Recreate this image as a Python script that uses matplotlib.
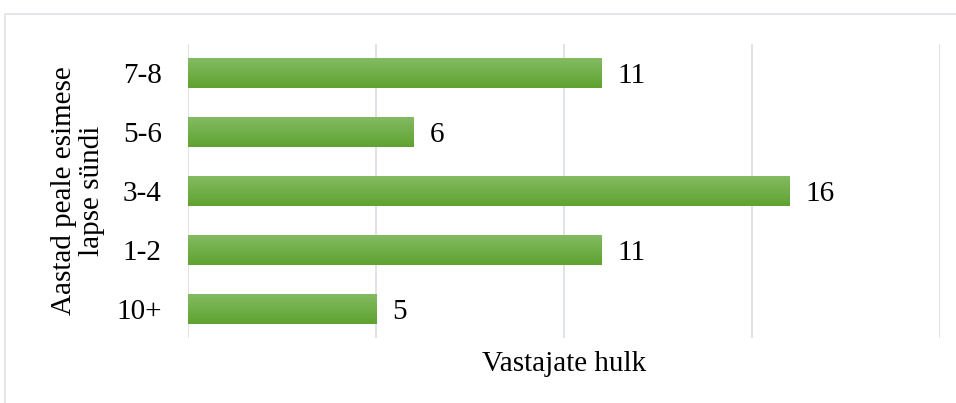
import numpy as np
import matplotlib.pyplot as plt
from matplotlib.colors import LinearSegmentedColormap
from matplotlib.patches import Rectangle

# data
categories = ["10+", "1-2", "3-4", "5-6", "7-8"]
counts = [5, 11, 16, 6, 11]
x_ticks = [0, 5, 10, 15, 20]

plt.rcParams['font.family'] = ['Liberation Serif', 'DejaVu Serif']

W, H = 956, 403
fig = plt.figure(figsize=(W / 100, H / 100), dpi=100)
fig.patch.set_facecolor('white')

# outer chart frame (runs off the right and bottom edges)
fig.add_artist(Rectangle((5 / W, -0.05), 1.0, 1 - 14 / H + 0.05,
                         transform=fig.transFigure, fill=False,
                         edgecolor='#dfe2e7', linewidth=1.2))

ax = fig.add_axes([188 / W, 1 - 338 / H, (940 - 188) / W, (338 - 44) / H])

green = LinearSegmentedColormap.from_list('g', ['#84bb62', '#5fa230'])
grad = np.linspace(0, 1, 64).reshape(-1, 1)
bar_h = 0.51

for i, v in enumerate(counts):
    ax.imshow(grad, cmap=green, aspect='auto', interpolation='bicubic',
              extent=(0, v, i - bar_h / 2, i + bar_h / 2), zorder=3, origin='upper')
    ax.text(v + 0.43, i, str(v), va='center_baseline', ha='left', fontsize=21)

ax.set_xlim(0, 20)
ax.set_ylim(-0.5, len(categories) - 0.5)
ax.set_xticks(x_ticks)
ax.set_xticklabels([])
ax.tick_params(axis='x', length=0)
ax.set_yticks(range(len(categories)))
ax.set_yticklabels(categories, fontsize=21)
ax.tick_params(axis='y', length=0, pad=19)
ax.grid(axis='x', color='#d9dde3', linewidth=1.2, zorder=0)
for s in ax.spines.values():
    s.set_visible(False)

ax.set_xlabel("Vastajate hulk", fontsize=21, labelpad=6)
ax.set_ylabel("Aastad peale esimese\nlapse sündi", fontsize=21, labelpad=8,
              linespacing=1.12)

fig.savefig("out.png", dpi=100)
